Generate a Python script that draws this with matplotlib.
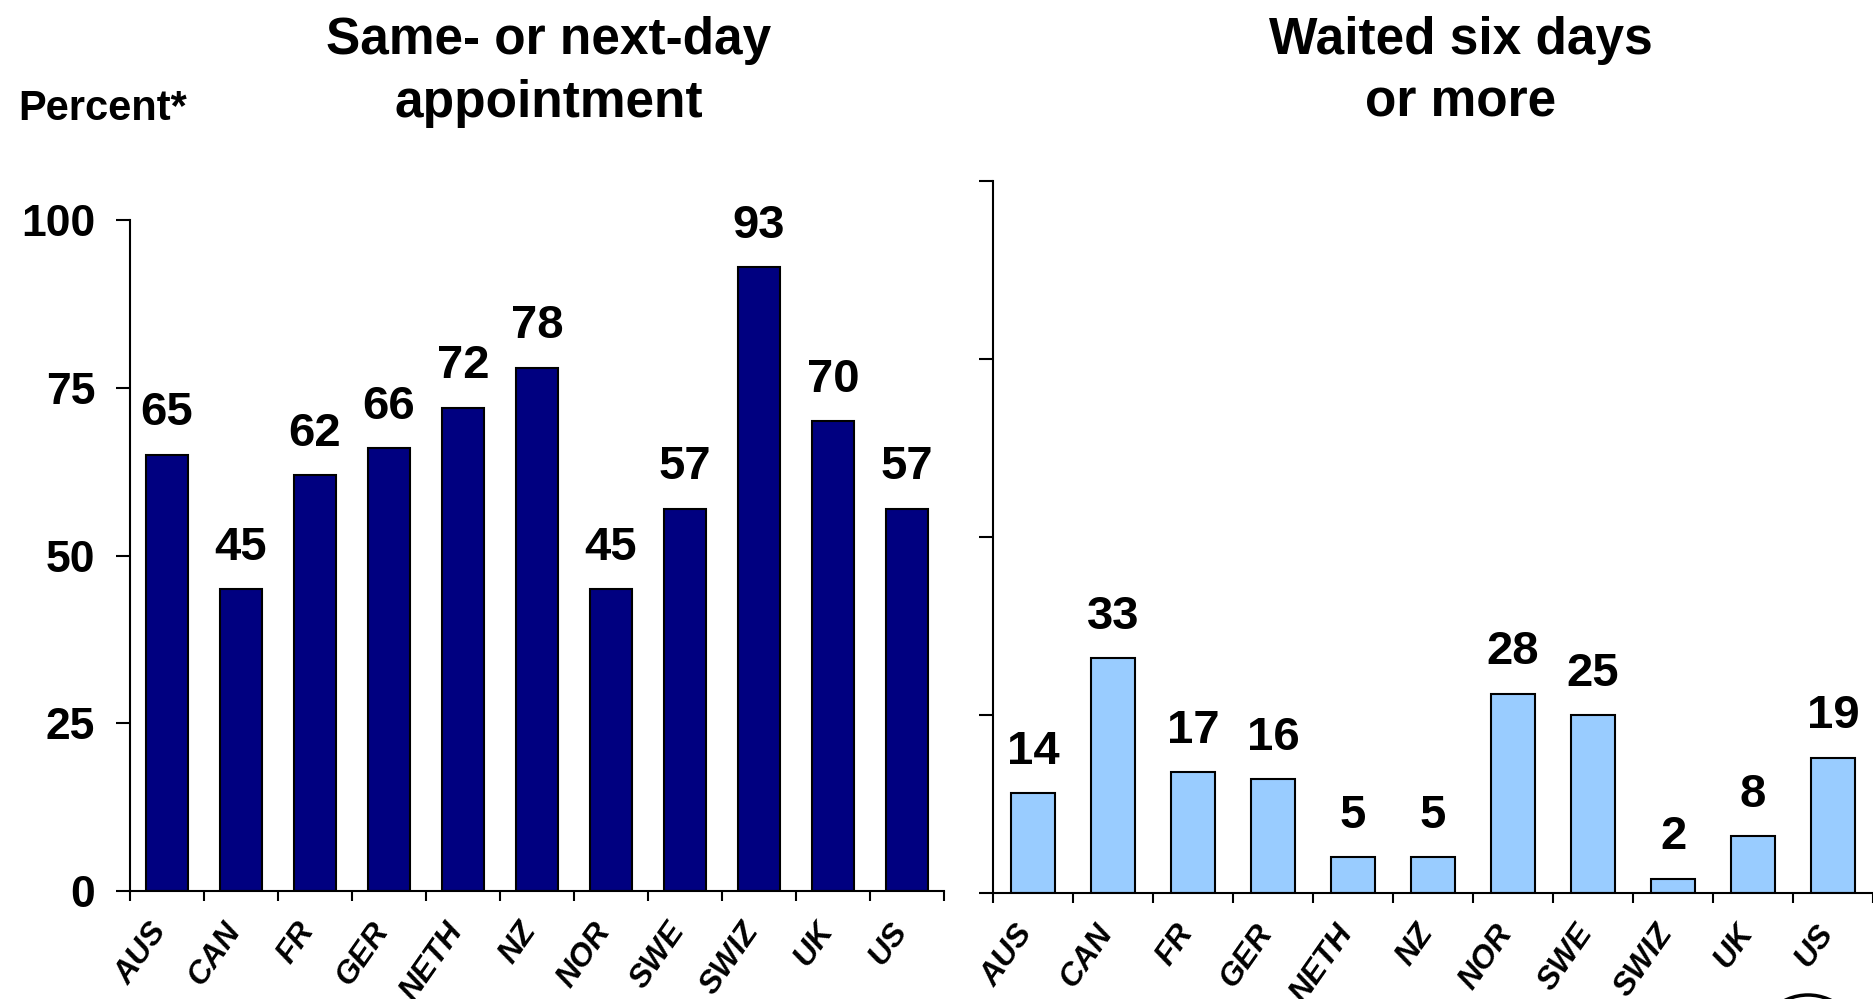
import numpy as np
from matplotlib import pyplot as plt
from matplotlib.patches import Ellipse

countries = ['AUS', 'CAN', 'FR', 'GER', 'NETH', 'NZ', 'NOR', 'SWE', 'SWIZ', 'UK', 'US']
same_next_day = [65, 45, 62, 66, 72, 78, 45, 57, 93, 70, 57]
waited_six_plus = [14, 33, 17, 16, 5, 5, 28, 25, 2, 8, 19]
y_ticks = [0, 25, 50, 75, 100]

plt.rcParams['font.family'] = ['Liberation Sans', 'DejaVu Sans']
plt.rcParams['font.weight'] = 'bold'

W, H = 1873, 999
fig = plt.figure(figsize=(W / 100, H / 100), dpi=100)


def px_axes(x0, x1, y_top, y_bot):
    # axes placed by figure pixel coords
    return fig.add_axes([x0 / W, (H - y_bot) / H, (x1 - x0) / W, (y_bot - y_top) / H])


def draw_panel(ax, values, color, bar_w, show_ylabels):
    x = np.arange(len(countries))
    bars = ax.bar(x, values, width=bar_w, color=color, edgecolor='black', linewidth=1.5, zorder=2)
    for b, v in zip(bars, values):
        ax.annotate(str(v), (b.get_x() + b.get_width() / 2, v), xytext=(0, 14),
                    textcoords='offset points', ha='center', va='bottom',
                    fontsize=34, fontweight='bold', annotation_clip=False)
    ax.set_xlim(-0.5, len(countries) - 0.5)
    ax.set_ylim(0, 100)
    ax.set_yticks(y_ticks)
    ax.tick_params(axis='y', length=10, width=1.5, labelsize=32, pad=15, labelleft=show_ylabels)

    ax.set_xticks(np.arange(-0.5, len(countries)), labels=[''] * (len(countries) + 1))
    ax.set_xticks(x + 0.08, labels=countries, minor=True)
    ax.tick_params(axis='x', which='major', length=7, width=1.5)
    ax.tick_params(axis='x', which='minor', length=0, labelsize=23, pad=19)
    for lab in ax.get_xticklabels(minor=True):
        lab.set_rotation(55)
        lab.set_ha('right')
        lab.set_va('top')
        lab.set_style('italic')

    for s in ['top', 'right']:
        ax.spines[s].set_visible(False)
    for s in ['left', 'bottom']:
        ax.spines[s].set_linewidth(1.5)
    ax.patch.set_alpha(0)


ax1 = px_axes(130, 944, 220, 891)
draw_panel(ax1, same_next_day, '#000080', 0.58, True)

ax2 = px_axes(993, 1873, 181, 893)
draw_panel(ax2, waited_six_plus, '#99CCFF', 0.56, False)

fig.text(549 / W, 1 - 72 / H, 'Same- or next-day\nappointment', ha='center', va='center',
         fontsize=37, fontweight='bold', linespacing=1.35)
fig.text(1461 / W, 1 - 72 / H, 'Waited six days\nor more', ha='center', va='center',
         fontsize=37, fontweight='bold', linespacing=1.35)
fig.text(18 / W, 1 - 109 / H, 'Percent*', ha='left', va='center', fontsize=30, fontweight='bold')

# cut-off logo ring at the bottom edge
fig.add_artist(Ellipse((1808 / W, 1 - 1047 / H), 104 / W, 104 / H, transform=fig.transFigure,
                       facecolor='none', edgecolor='black', linewidth=2.5))

fig.savefig('out.png', dpi=100)
